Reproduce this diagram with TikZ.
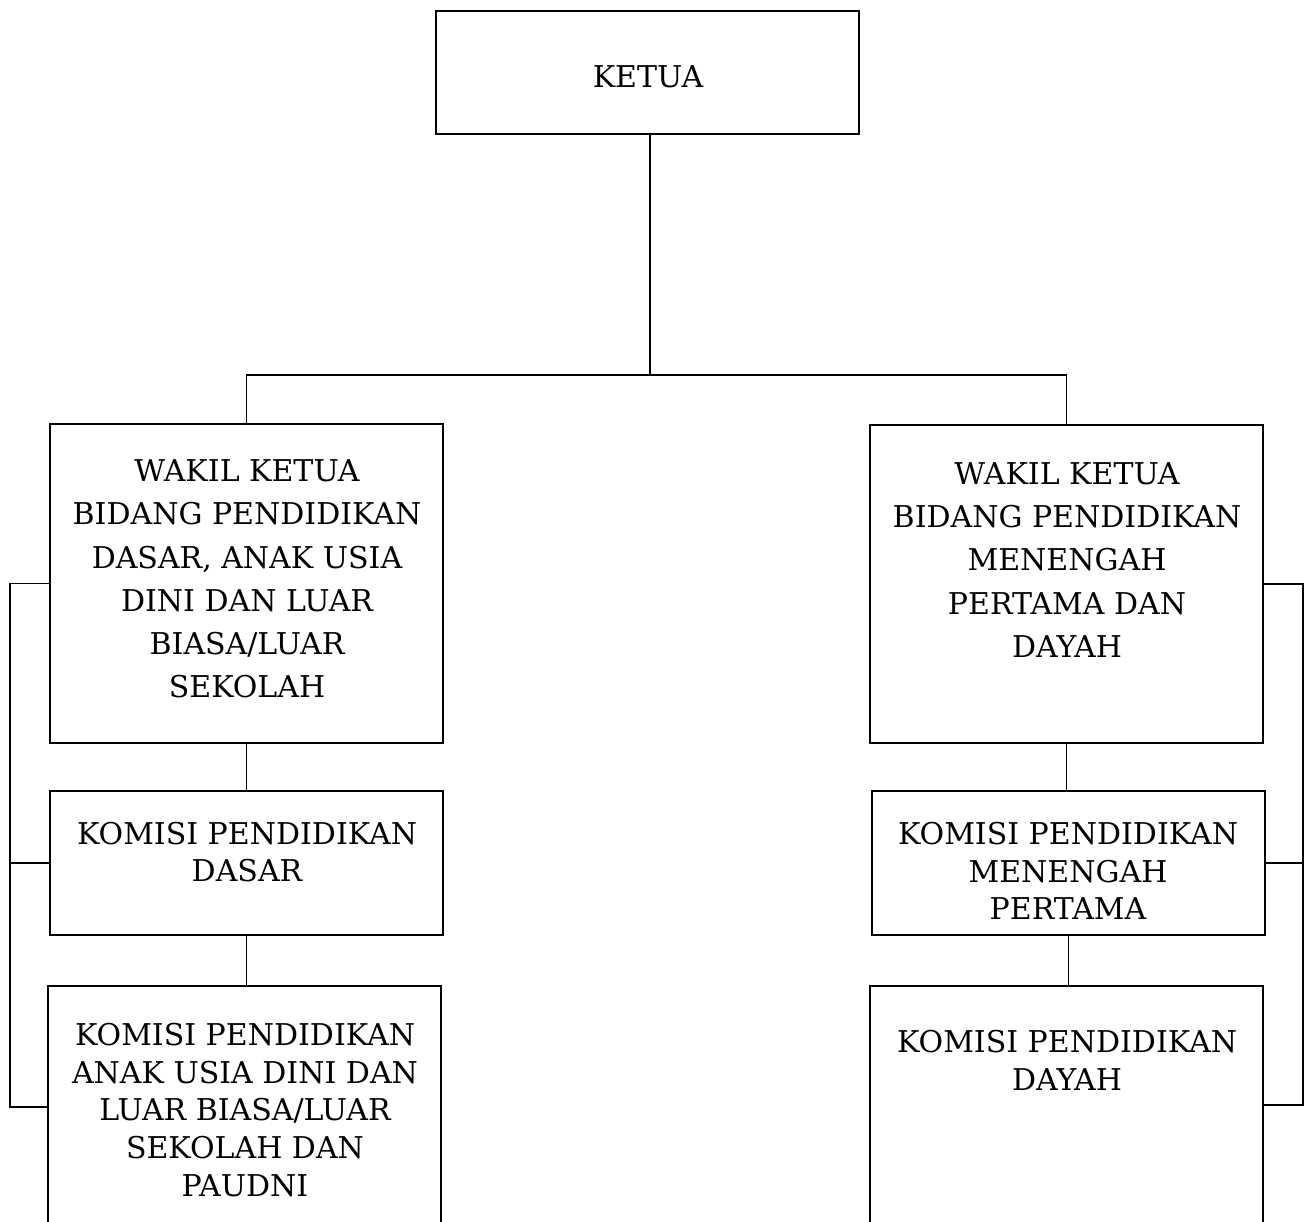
\documentclass[tikz,border=0pt]{standalone}
\usepackage{fontspec}
\setmainfont{DejaVu Serif}
\usetikzlibrary{positioning}

\begin{document}
\begin{tikzpicture}[x=1pt,y=-1pt]
    \tikzset{box/.style = {shape=rectangle, draw, line width=1.6pt, inner sep=0pt}}
    \tikzset{wakiltext/.style = {align=center, font=\fontsize{30}{43.3}\selectfont}}
    \tikzset{komisitext/.style = {align=center, font=\fontsize{30}{37.8}\selectfont}}
    \tikzset{edge/.style = {draw, line width=1.6pt}}

    \useasboundingbox (0,0) rectangle (1313,1222);
    \clip (0,0) rectangle (1313,1222);

    % boxes
    \node[box, minimum width=423pt, minimum height=123pt] (ketua) at (647.5,72.5) {};
    \node[box, minimum width=393pt, minimum height=319pt] (wkl) at (246.5,583.5) {};
    \node[box, minimum width=393pt, minimum height=318pt] (wkr) at (1066.5,584) {};
    \node[box, minimum width=393pt, minimum height=144pt] (kdasar) at (246.5,863) {};
    \node[box, minimum width=393pt, minimum height=144pt] (kmenengah) at (1068.5,863) {};
    \node[box, minimum width=393pt, minimum height=242pt] (kanak) at (244.5,1107) {};
    \node[box, minimum width=393pt, minimum height=238pt] (kdayah) at (1066.5,1105) {};

    % texts
    \node[wakiltext] (ketua-t) at (648,77) {KETUA};
    \node[wakiltext] (wkl-t) at (247,579) {WAKIL KETUA\\BIDANG PENDIDIKAN\\DASAR, ANAK USIA\\DINI DAN LUAR\\BIASA/LUAR\\SEKOLAH};
    \node[wakiltext] (wkr-t) at (1067,560) {WAKIL KETUA\\BIDANG PENDIDIKAN\\MENENGAH\\PERTAMA DAN\\DAYAH};
    \node[komisitext] (kdasar-t) at (247,852) {KOMISI PENDIDIKAN\\DASAR};
    \node[komisitext] (kmenengah-t) at (1068,871) {KOMISI PENDIDIKAN\\MENENGAH\\PERTAMA};
    \node[komisitext] (kanak-t) at (245,1110) {KOMISI PENDIDIKAN\\ANAK USIA DINI DAN\\LUAR BIASA/LUAR\\SEKOLAH DAN\\PAUDNI};
    \node[komisitext] (kdayah-t) at (1067,1060) {KOMISI PENDIDIKAN\\DAYAH};

    % helper points
    \coordinate (bar) at (650,375);
    \coordinate (lx) at (10,0);
    \coordinate (rx) at (1303,0);

    % edges
    \draw[edge] (ketua.south -| bar) -- (bar);
    \draw[edge] (wkl.north) |- (bar) -| (wkr.north);
    \draw[edge] (wkl.south) -- (wkl.south |- kdasar.north);
    \draw[edge] (kdasar.south) -- (kdasar.south |- kanak.north);
    \draw[edge] (wkr.south) -- (wkr.south |- kmenengah.north);
    \draw[edge] (kmenengah.south) -- (kmenengah.south |- kdayah.north);
    \draw[edge] (wkl.west) -- (wkl.west -| lx) -- (kanak.west -| lx) -- (kanak.west);
    \draw[edge] (kdasar.west -| lx) -- (kdasar.west);
    \draw[edge] (wkr.east) -- (wkr.east -| rx) -- (kdayah.east -| rx) -- (kdayah.east);
    \draw[edge] (kmenengah.east) -- (kmenengah.east -| rx);
\end{tikzpicture}
\end{document}
